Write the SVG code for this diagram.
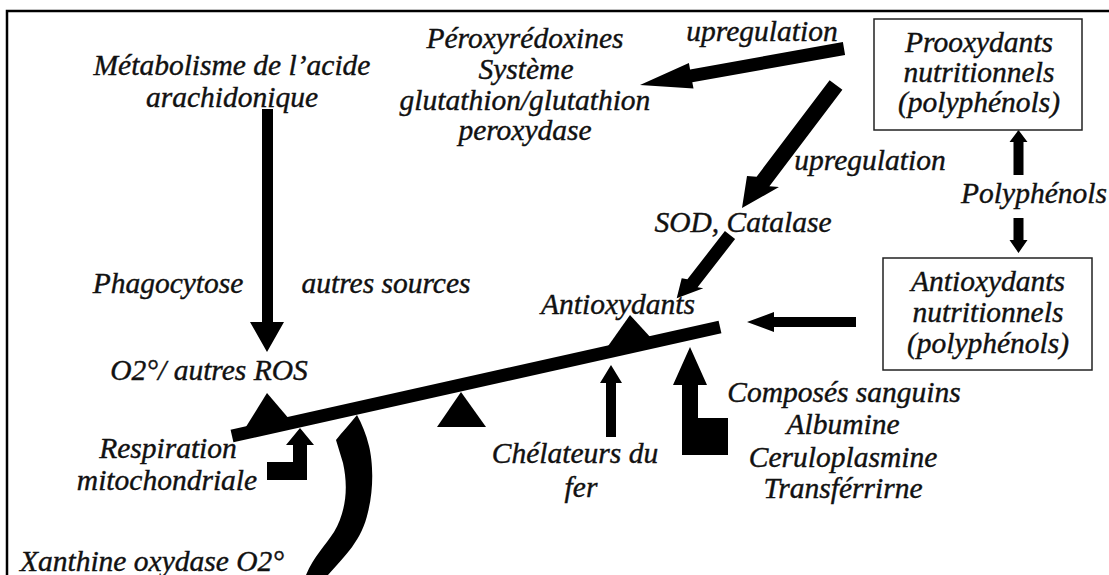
<svg xmlns="http://www.w3.org/2000/svg" width="1109" height="575" viewBox="0 0 1109 575">
<style>
text{font-family:"Liberation Serif","Times New Roman",serif;font-style:italic;font-size:29.5px;fill:#111;stroke:#111;stroke-width:0.4px;text-anchor:middle}
.box{fill:none;stroke:#222;stroke-width:1.5}
.ar{fill:#000;stroke:none}
.frame{fill:none;stroke:#000;stroke-width:2.5}
</style>
<rect width="1109" height="575" fill="#fff"/>
<path class="frame" d="M7,575 V11 H1109"/>

<g id="connectors">
<path class="ar" d="M842.9,42.1 L690.1,69.4 L688.9,63 L640,85 L693.5,88.6 L692.3,82.2 L845.1,54.9 Z"/>
<path class="ar" d="M829.6,80.2 L756.6,176.7 L747,176 L742,208 L779,187 L769.4,186.3 L842.4,89.8 Z"/>
<path class="ar" d="M724.9,231 L687.4,279.3 L681.7,278.3 L676.7,298.3 L703.3,288.3 L697.6,287.3 L735.1,239 Z"/>
<path class="ar" d="M856,317 L774,317 L774,312 L747,322 L774,332 L774,327 L856,327 Z"/>
<path class="ar" d="M262,109 L273,109 L273,322 L284,322 L267,352 L250,322 L262,322 Z"/>
<path class="ar" d="M1018.5,130 L1027.5,142 L1023.5,142 L1023.5,175 L1013.5,175 L1013.5,142 L1009.5,142 Z"/>
<path class="ar" d="M1013.5,218 L1023.5,218 L1023.5,240 L1027.5,240 L1018.5,253 L1009.5,240 L1013.5,240 Z"/>
<path class="ar" d="M611,365 L622,383 L616,383 L616,437 L606,437 L606,383 L600,383 Z"/>
<path class="ar" d="M690,347 L707,385 L698,385 L698,418 L728,418 L728,455 L682,455 L682,385 L673,385 Z"/>
<path class="ar" d="M300,428 L314,445 L307,445 L307,480 L267,480 L267,462 L293,462 L293,445 L286,445 Z"/>
<path class="ar" d="M357,415 C350,424 342,432 336,440 L343,463 C348,485 347,510 334,532 C325,546 314,556 306,575 L328,575 C345,556 362,540 368,512 C374,488 373,462 369,446 C366,434 362,424 357,415 Z"/>
</g>

<g id="balance">
<line x1="232" y1="436" x2="720" y2="327" stroke="#000" stroke-width="13"/>
<polygon class="ar" points="267,393 290,420 244,430"/>
<polygon class="ar" points="461,392 486,427 437,427"/>
<polygon class="ar" points="630,315 652,339 606,349"/>
</g>

<g id="n-metabolisme"><text x="232" y="75">Métabolisme de l’acide</text><text x="232" y="107">arachidonique</text></g>
<g id="n-peroxy"><text x="525" y="48">Péroxyrédoxines</text><text x="526" y="79">Système</text><text x="525" y="110">glutathion/glutathion</text><text x="525" y="140">peroxydase</text></g>
<g id="n-up1"><text x="762" y="41">upregulation</text></g>
<g id="n-prooxydants"><rect class="box" x="874" y="19" width="208" height="111"/><text x="979" y="52">Prooxydants</text><text x="979" y="82">nutritionnels</text><text x="979" y="112">(polyphénols)</text></g>
<g id="n-up2"><text x="870" y="170">upregulation</text></g>
<g id="n-polyphenols"><text x="1034" y="203">Polyphénols</text></g>
<g id="n-sod"><text x="743" y="232">SOD, Catalase</text></g>
<g id="n-antiox-nut"><rect class="box" x="883" y="258" width="209" height="112"/><text x="988" y="291">Antioxydants</text><text x="988" y="322">nutritionnels</text><text x="988" y="353">(polyphénols)</text></g>
<g id="n-antiox"><text x="618" y="314">Antioxydants</text></g>
<g id="n-phago"><text x="168" y="293">Phagocytose</text></g>
<g id="n-autres"><text x="386" y="293">autres sources</text></g>
<g id="n-ros"><text x="209" y="380">O2°/ autres ROS</text></g>
<g id="n-resp"><text x="168" y="458">Respiration</text><text x="167" y="490">mitochondriale</text></g>
<g id="n-chel"><text x="575" y="463">Chélateurs du</text><text x="581" y="497">fer</text></g>
<g id="n-compos"><text x="844" y="402">Composés sanguins</text><text x="843" y="434">Albumine</text><text x="843" y="467">Ceruloplasmine</text><text x="843" y="498">Transférrirne</text></g>
<g id="n-xanthine"><text x="152" y="571">Xanthine oxydase O2°</text></g>
</svg>
